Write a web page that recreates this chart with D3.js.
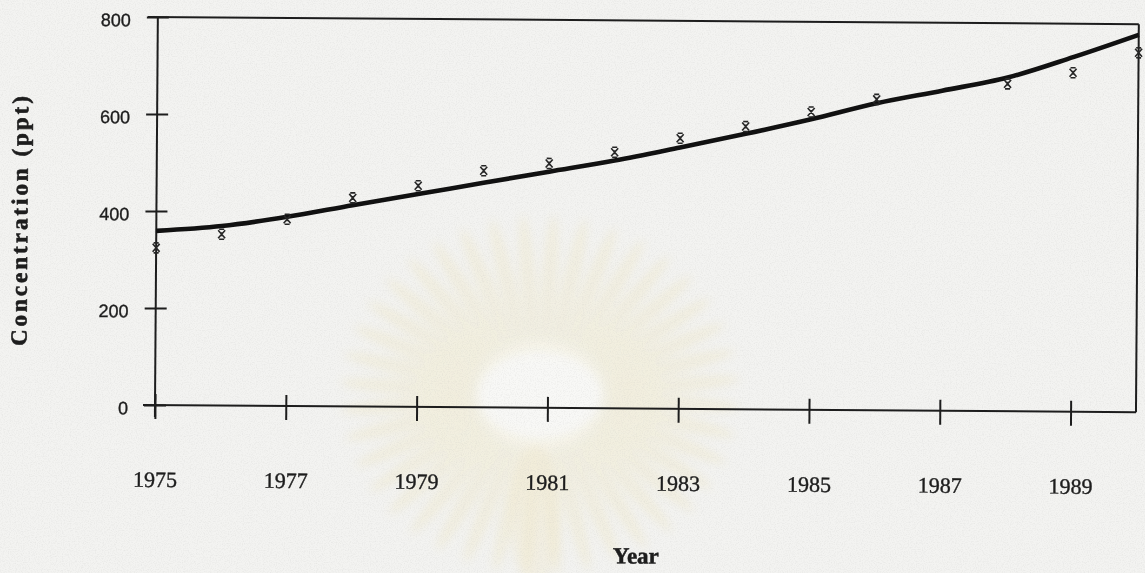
<!DOCTYPE html>
<html>
<head>
<meta charset="utf-8">
<script src="https://cdn.jsdelivr.net/npm/d3@7"></script>
<style>
  html, body { margin: 0; padding: 0; background: #f3f3f1; }
  svg { display: block; }
</style>
</head>
<body>
<svg id="chart" width="1145" height="573"></svg>
<script>
// Fitted trend, one value per year (ppt)
const fitYears = [1975, 1976, 1977, 1978, 1979, 1980, 1981, 1982, 1983, 1984, 1985, 1986, 1987, 1988, 1989, 1990];
const fitValues = [359, 370, 390, 415, 439, 463, 487, 511, 539, 568, 599, 633, 660, 688, 731, 778];

// Measured concentrations (ppt)
const obsYears = [1975, 1976, 1977, 1978, 1979, 1980, 1981, 1982, 1983, 1984, 1985, 1986, 1988, 1989, 1990];
const obsValues = [324, 353, 385, 430, 456, 488, 504, 528, 558, 583, 614, 641, 675, 699, 741];

// Axis ticks
const yTicks = [0, 200, 400, 600, 800];
const xTicks = [1975, 1977, 1979, 1981, 1983, 1985, 1987, 1989];

(function draw() {
  const svg = d3.select("#chart");
  const W = 1145, H = 573;
  const plotL = 155, plotR = 1136, plotT = 17, plotB = 405;

  const defs = svg.append("defs");

  // paper grain
  const grain = defs.append("filter").attr("id", "grain")
    .attr("x", 0).attr("y", 0).attr("width", "100%").attr("height", "100%");
  grain.append("feTurbulence").attr("type", "fractalNoise")
    .attr("baseFrequency", 0.85).attr("numOctaves", 2).attr("seed", 7).attr("result", "n");
  grain.append("feColorMatrix").attr("type", "matrix")
    .attr("values", "0 0 0 0 0.5  0 0 0 0 0.5  0 0 0 0 0.49  0 0 0 -1.7 0.95");

  const soft = defs.append("filter").attr("id", "soft")
    .attr("x", "-20%").attr("y", "-20%").attr("width", "140%").attr("height", "140%");
  soft.append("feGaussianBlur").attr("stdDeviation", 4);

  // background paper
  svg.append("rect").attr("width", W).attr("height", H).attr("fill", "#f3f3f1");

  // faint emblem behind the plot
  const emblem = svg.append("g").attr("filter", "url(#soft)");
  const ec = { x: 540, y: 395 };
  emblem.append("ellipse").attr("cx", ec.x).attr("cy", ec.y).attr("rx", 65).attr("ry", 55)
    .attr("fill", "#fdfdfb").attr("opacity", 0.5);
  d3.range(40).forEach(i => {
    const a = i * 9 + 4;
    const rad = a * Math.PI / 180;
    const ri = 60, ro = 200;
    const rm = (ri + ro) / 2;
    const sy = 0.85;
    emblem.append("ellipse")
      .attr("cx", 0).attr("cy", 0)
      .attr("rx", (ro - ri) / 2).attr("ry", 8)
      .attr("transform", `translate(${ec.x + Math.cos(rad) * rm},${ec.y + Math.sin(rad) * rm * sy}) rotate(${a})`)
      .attr("fill", "#f1e5bd").attr("opacity", 0.32);
  });
  emblem.append("ellipse").attr("cx", ec.x - 5).attr("cy", 515).attr("rx", 26).attr("ry", 70)
    .attr("fill", "#f2e8cc").attr("opacity", 0.35);

  svg.append("rect").attr("width", W).attr("height", H)
    .attr("filter", "url(#grain)").attr("opacity", 0.25);

  // everything on the sheet sits slightly skewed
  const g = svg.append("g").attr("transform", `rotate(0.42, ${plotL}, ${plotB})`);

  const x = d3.scaleLinear().domain([1975, 1990]).range([plotL, plotR]);
  const y = d3.scaleLinear().domain([0, 800]).range([plotB, plotT]);

  const ink = "#1d1d1d";

  // frame: top and right edges
  g.append("line").attr("x1", plotL - 10).attr("x2", plotR).attr("y1", y(800)).attr("y2", y(800))
    .attr("stroke", ink).attr("stroke-width", 2);
  g.append("line").attr("x1", plotR).attr("x2", plotR).attr("y1", y(800)).attr("y2", y(0))
    .attr("stroke", ink).attr("stroke-width", 2);

  // y axis
  const yAxis = g.append("g").attr("transform", `translate(${plotL},0)`)
    .call(d3.axisLeft(y).tickValues(yTicks).tickSize(11).tickSizeOuter(0).tickPadding(16)
      .tickFormat(d3.format("d")));
  yAxis.select(".domain").attr("stroke", ink).attr("stroke-width", 2)
    .attr("d", `M0,${y(800)}V${y(0) + 12}`);
  yAxis.selectAll(".tick line").attr("x1", 11).attr("stroke", ink).attr("stroke-width", 2);
  yAxis.selectAll(".tick text")
    .attr("dy", "0.5em")
    .attr("fill", ink)
    .attr("stroke", ink).attr("stroke-width", 0.35)
    .style("font-family", "'Liberation Sans', Arial, sans-serif")
    .style("font-size", "18px");

  // x axis
  const xAxis = g.append("g").attr("transform", `translate(0,${plotB})`)
    .call(d3.axisBottom(x).tickValues(xTicks).tickSize(14).tickSizeOuter(0).tickPadding(0)
      .tickFormat(d3.format("d")));
  xAxis.select(".domain").attr("stroke", ink).attr("stroke-width", 2)
    .attr("d", `M${plotL - 12},0H${plotR}`);
  xAxis.selectAll(".tick line").attr("y1", -11).attr("stroke", ink).attr("stroke-width", 2);
  xAxis.selectAll(".tick text")
    .attr("y", 82).attr("dy", 0)
    .attr("fill", ink)
    .attr("stroke", ink).attr("stroke-width", 0.4)
    .style("font-family", "'Liberation Serif', 'Times New Roman', serif")
    .style("font-size", "22px");

  // axis titles
  g.append("text")
    .attr("x", 637).attr("y", 560)
    .attr("text-anchor", "middle")
    .attr("fill", ink)
    .attr("stroke", ink).attr("stroke-width", 0.5)
    .style("font-family", "'Liberation Serif', 'Times New Roman', serif")
    .style("font-weight", "bold")
    .style("font-size", "23px")
    .text("Year");

  g.append("text")
    .attr("transform", "translate(26,222) rotate(-90)")
    .attr("text-anchor", "middle")
    .attr("textLength", 250)
    .attr("lengthAdjust", "spacing")
    .attr("fill", ink)
    .attr("stroke", ink).attr("stroke-width", 0.6)
    .style("font-family", "'Liberation Serif', 'Times New Roman', serif")
    .style("font-weight", "bold")
    .style("font-size", "23px")
    .text("Concentration (ppt)");

  // fitted trend line
  const fitData = fitYears.map((yr, i) => ({ yr, v: fitValues[i] }));
  g.append("path")
    .datum(fitData)
    .attr("fill", "none")
    .attr("stroke", "#111")
    .attr("stroke-width", 4.6)
    .attr("stroke-linejoin", "round")
    .attr("d", d3.line().x(d => x(d.yr)).y(d => y(d.v)).curve(d3.curveMonotoneX));

  // measured points, drawn as small asterisk marks
  const obsData = obsYears.map((yr, i) => ({ yr, v: obsValues[i] }));
  const star = "M-2.5,-5H2.5M-2.5,5H2.5M-3.5,-4L3.5,4M3.5,-4L-3.5,4M0,-2V2";
  g.append("g").selectAll("path")
    .data(obsData)
    .join("path")
    .attr("transform", d => `translate(${x(d.yr)},${y(d.v)})`)
    .attr("d", star)
    .attr("fill", "none")
    .attr("stroke", "#262626")
    .attr("stroke-width", 1.6);
})();
</script>
</body>
</html>
